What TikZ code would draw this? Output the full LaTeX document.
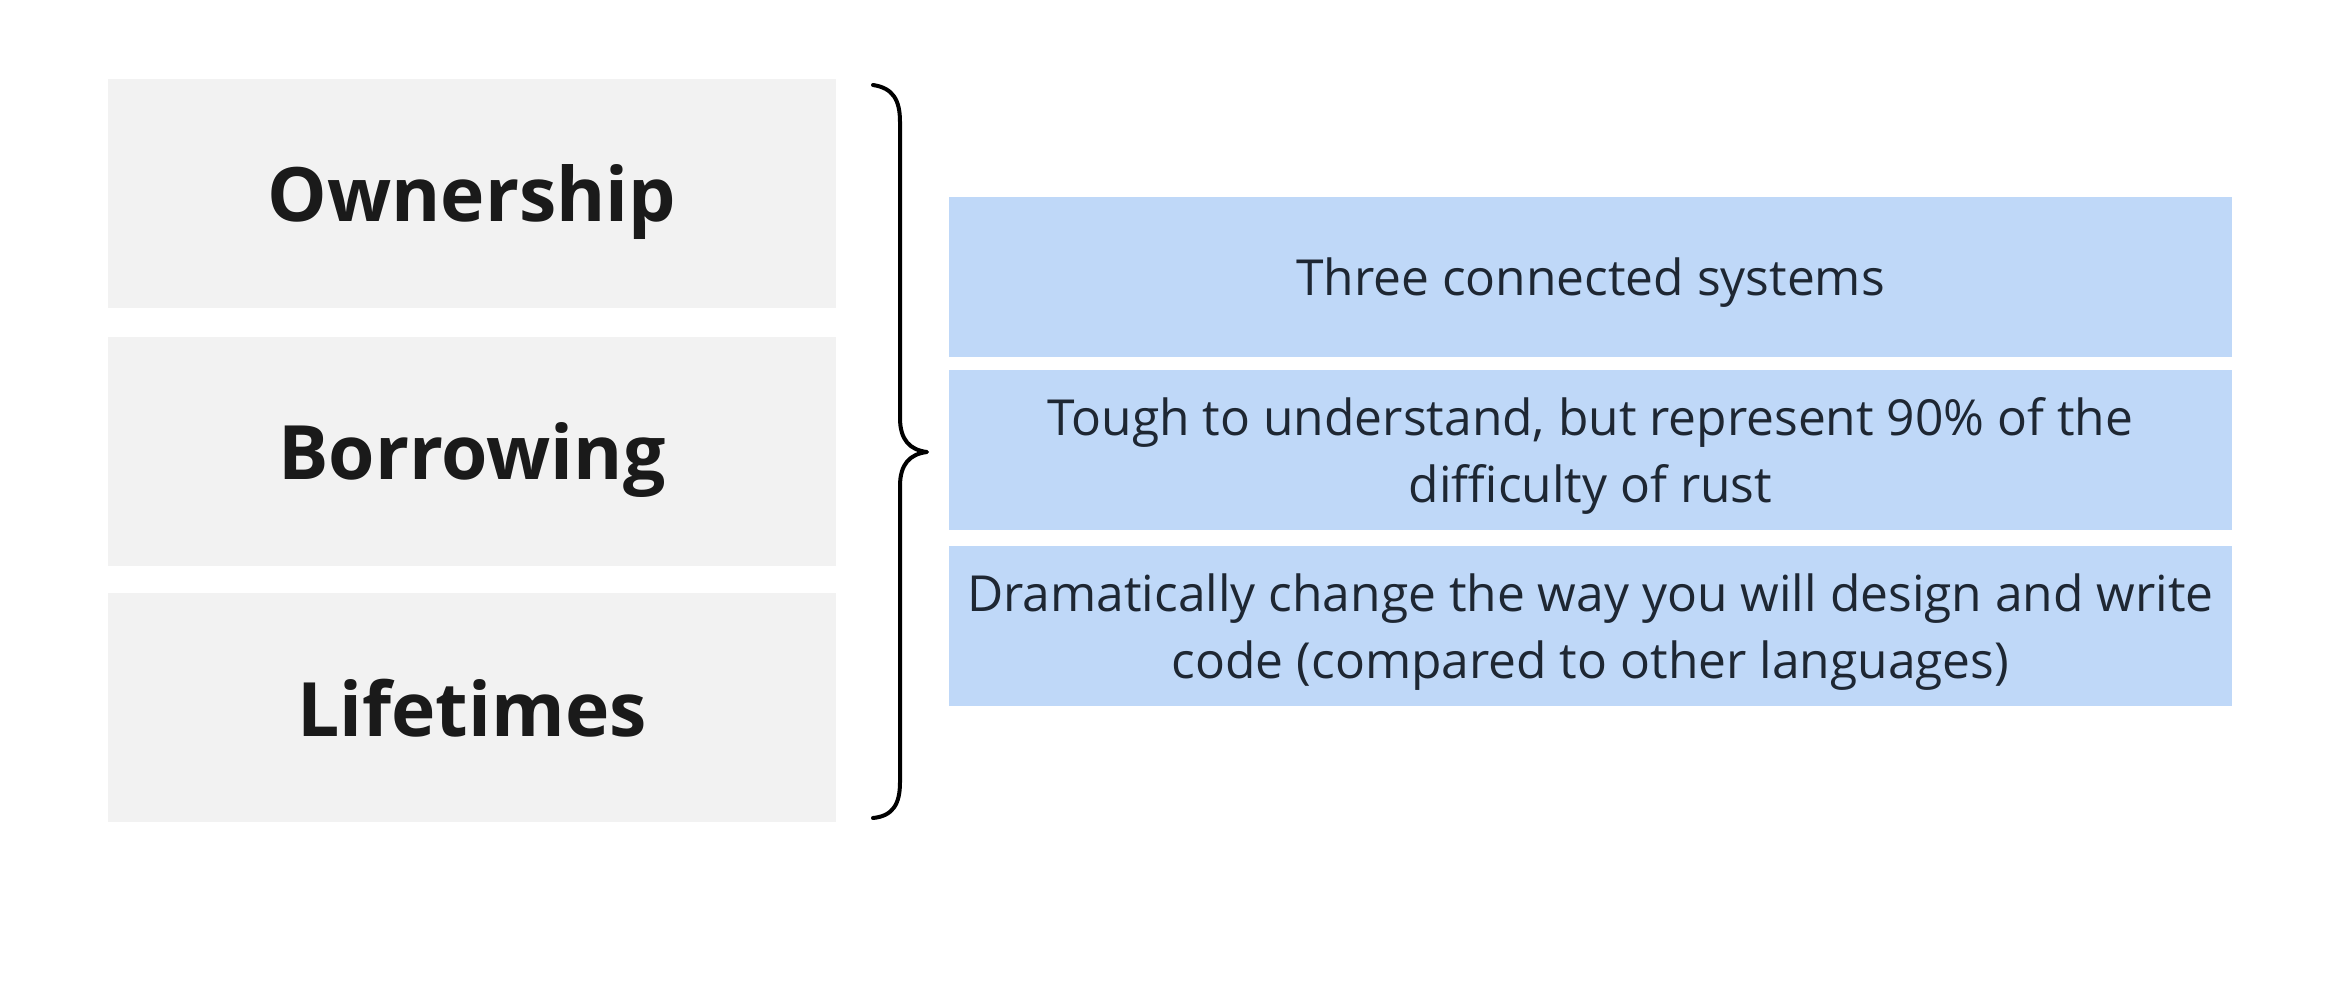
\documentclass[tikz,border=0pt]{standalone}
\usepackage{fontspec}
\setmainfont{Open Sans}
\definecolor{lgray}{HTML}{F2F2F2}
\definecolor{lblue}{HTML}{BFD8F8}
\definecolor{dtext}{HTML}{1A1A1A}
\definecolor{btext}{HTML}{1E2733}
\begin{document}
\begin{tikzpicture}[x=1pt,y=-1pt,
  lbox/.style={fill=lgray, draw=none, minimum width=728pt, minimum height=229pt, inner sep=0pt,
    text depth=0pt, font=\fontsize{75}{90}\selectfont\bfseries, text=dtext},
  rbox/.style={fill=lblue, draw=none, minimum width=1283pt, minimum height=160pt, inner sep=0pt,
    align=center, font=\fontsize{49.7}{67}\selectfont, text=btext},
  bracestyle/.style={line width=4pt, line cap=round, line join=round, draw=black}]
\useasboundingbox (0,0) rectangle (2348,987);
\fill[white] (0,0) rectangle (2348,987);
\node[lbox] (own) at (472,193.5) {Ownership};
\node[lbox] (bor) at (472,451.5) {Borrowing};
\node[lbox] (lif) at (472,707.5) {Lifetimes};
\node[rbox] (r1) at (1590.5,277) {};
\node[rbox] (r2) at (1590.5,450) {};
\node[rbox] (r3) at (1590.5,626) {};
\node[align=center, inner sep=0pt, font=\fontsize{49.7}{67}\selectfont, text=btext] (t1) at (1590.5,283) {Three connected systems};
\node[align=center, inner sep=0pt, font=\fontsize{49.7}{67}\selectfont, text=btext] (t2) at (1590.5,456) {Tough to understand, but represent 90\% of the\\difficulty of rust};
\node[align=center, inner sep=0pt, font=\fontsize{49.7}{67}\selectfont, text=btext] (t3) at (1590.5,632) {Dramatically change the way you will design and write\\code (compared to other languages)};
\coordinate (btop) at (873,85);
\coordinate (bmid) at (927,452);
\coordinate (bbot) at (873,818);
\draw[bracestyle] (btop) .. controls (893,88) and (900,100) .. (900,122)
  -- (900,418) .. controls (900,440) and (910,450) .. (bmid)
  .. controls (910,454) and (900,464) .. (900,486)
  -- (900,782) .. controls (900,804) and (893,816) .. (bbot);
\end{tikzpicture}
\end{document}
